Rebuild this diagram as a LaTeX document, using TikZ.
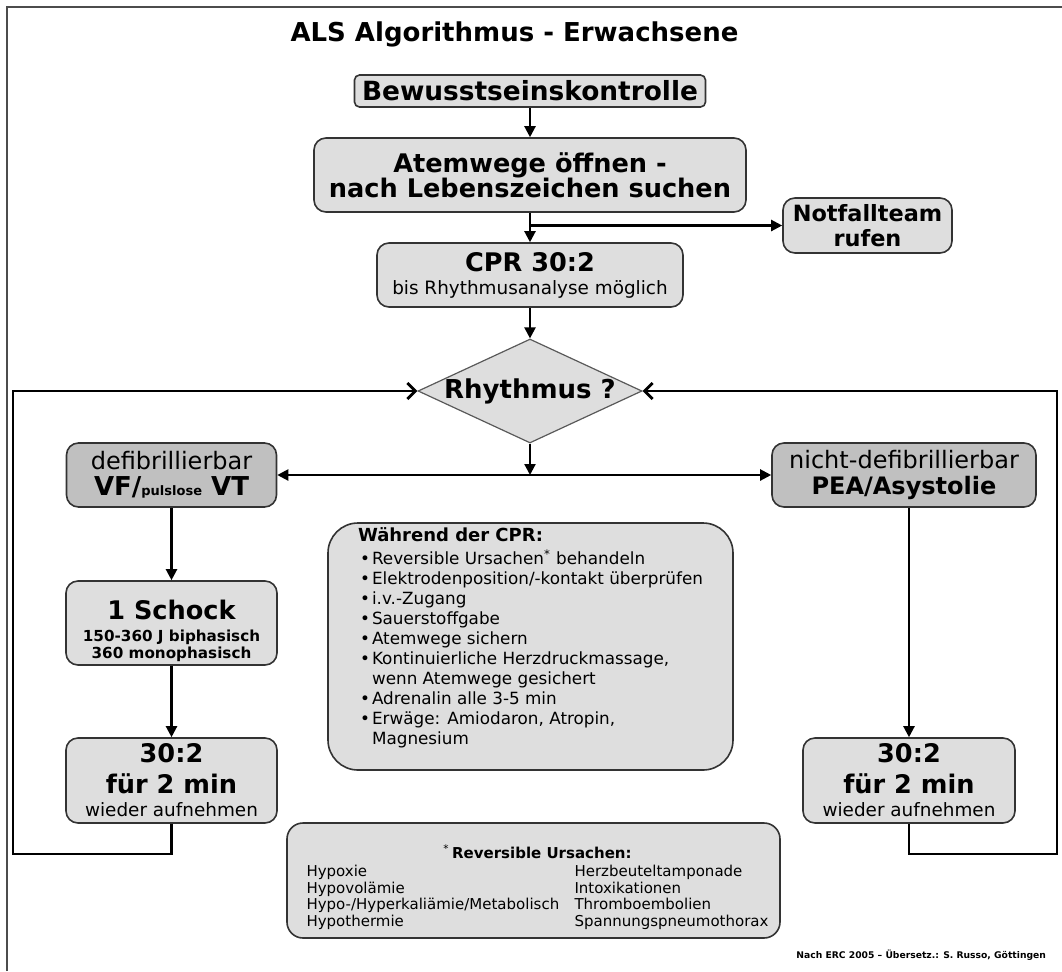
\documentclass[tikz,border=0pt]{standalone}
\usepackage{fontspec}
\setmainfont{DejaVu Sans}
\usetikzlibrary{shapes.geometric,arrows.meta}
\definecolor{boxgray}{HTML}{DEDEDE}
\definecolor{rhythmgray}{HTML}{C0C0C0}
\definecolor{edgegray}{HTML}{333333}
\newcommand{\dotitem}{\makebox[7pt][c]{\textbullet}}
\newcommand{\sizebig}{\bfseries\fontsize{12.8}{13}\selectfont}

\tikzset{
  procbox/.style={draw=edgegray, line width=0.8pt, fill=boxgray, rounded corners=6pt,
    align=center, inner sep=0pt},
  rhythmbox/.style={procbox, fill=rhythmgray},
  infobox/.style={draw=edgegray, line width=0.8pt, fill=boxgray, rounded corners=8pt, inner sep=0pt},
  decision/.style={diamond, draw=black!65, line width=0.6pt, fill=boxgray,
    minimum width=112pt, minimum height=52pt, inner sep=0pt},
  flowarrow/.style={line width=1.1pt, -{Triangle[length=5.5pt,width=5.5pt]}},
  backarrow/.style={line width=1.4pt, -{Straight Barb[length=4pt,width=8pt]}},
  frameline/.style={line width=0.6pt, draw=black!70}
}

\begin{document}
\begin{tikzpicture}[x=0.5pt, y=-0.5pt]
  \useasboundingbox (0,0) rectangle (1062,971);
  \draw[frameline] (7,971) -- (7,7) -- (1062,7);

  \node[anchor=base, font=\bfseries\fontsize{13}{15}\selectfont] (title) at (514.5,41) {ALS Algorithmus - Erwachsene};

  % main column
  \node[procbox, rounded corners=2.5pt, minimum width=175.5pt, minimum height=16pt,
    font=\bfseries\fontsize{13.2}{15}\selectfont] (check) at (530,91) {Bewusstseinskontrolle};
  \node[procbox, minimum width=216pt, minimum height=37pt,
    font={\bfseries\fontsize{12.8}{12.5}\selectfont\lineskiplimit=-20pt}] (airway) at (530,175)
    {Atemwege öffnen -\\nach Lebenszeichen suchen};
  \node[procbox, minimum width=84.5pt, minimum height=27.5pt,
    font=\bfseries\fontsize{11.2}{12.5}\selectfont] (team) at (867.5,225.5) {Notfallteam\\rufen};
  \node[procbox, minimum width=153pt, minimum height=32pt,
    font=\fontsize{9.2}{11.5}\selectfont] (cpr) at (530,275)
    {{\sizebig CPR 30:2}\\bis Rhythmusanalyse möglich};
  \node[decision] (rhythm) at (530,391) {};
  \node[font=\bfseries\fontsize{13}{13}\selectfont, inner sep=0pt] (rhythmtext) at (rhythm.center) {Rhythmus ?};

  % branches
  \node[rhythmbox, minimum width=105pt, minimum height=32pt,
    font=\fontsize{12}{13}\selectfont] (shockable) at (171.5,475)
    {defibrillierbar\\{\bfseries\fontsize{13}{13}\selectfont VF/{\fontsize{6.5}{7}\selectfont pulslose} VT}};
  \node[rhythmbox, minimum width=132pt, minimum height=32pt,
    font=\fontsize{12}{13}\selectfont] (nonshock) at (904,475)
    {nicht-defibrillierbar\\\textbf{PEA/Asystolie}};
  \node[procbox, minimum width=105.5pt, minimum height=42pt,
    font=\bfseries\fontsize{7.6}{8.5}\selectfont] (shock) at (171.5,623)
    {\rule{0pt}{17.5pt}{\fontsize{12.8}{13}\selectfont 1 Schock}\\[2.5pt]150-360 J biphasisch\\360 monophasisch};
  \node[procbox, minimum width=105.5pt, minimum height=42.5pt,
    font=\fontsize{9.2}{11.5}\selectfont] (pause1) at (171.5,780.5)
    {{\sizebig 30:2}\\[4pt]{\sizebig für 2 min}\\wieder aufnehmen};
  \node[procbox, minimum width=106pt, minimum height=42.5pt,
    font=\fontsize{9.2}{11.5}\selectfont] (pause2) at (909,780.5)
    {{\sizebig 30:2}\\[4pt]{\sizebig für 2 min}\\wieder aufnehmen};

  % notes
  \node[procbox, rounded corners=15pt, minimum width=202.5pt, minimum height=123.5pt] (cprbox) at (530.5,646.5) {};
  \node[anchor=north, align=left, inner sep=0pt, font=\fontsize{8.4}{10}\selectfont] (cprtext) at (530.5,527)
    {{\bfseries\fontsize{9}{10}\selectfont Während der CPR:}\\[1.5pt]
     \dotitem Reversible Ursachen\textsuperscript{*} behandeln\\
     \dotitem Elektrodenposition/-kontakt überprüfen\\
     \dotitem i.v.-Zugang\\
     \dotitem Sauerstoffgabe\\
     \dotitem Atemwege sichern\\
     \dotitem Kontinuierliche Herzdruckmassage,\\
     \hspace*{7pt}wenn Atemwege gesichert\\
     \dotitem Adrenalin alle 3-5 min\\
     \dotitem Erwäge: Amiodaron, Atropin,\\
     \hspace*{7pt}Magnesium};
  \node[infobox, minimum width=246.5pt, minimum height=57.5pt,
    font=\fontsize{7.5}{8.25}\selectfont] (causes) at (533.5,880.5)
    {\begin{tabular}{@{\hspace{4pt}}p{134pt}@{}l@{}}
      \multicolumn{2}{@{\hspace{4pt}}c@{}}{\rule{0pt}{14.5pt}\textsuperscript{*}\,\textbf{Reversible Ursachen:}}\\[0.75pt]
      Hypoxie & Herzbeuteltamponade\\
      Hypovolämie & Intoxikationen\\
      Hypo-/Hyperkaliämie/Metabolisch & Thromboembolien\\
      Hypothermie & Spannungspneumothorax
    \end{tabular}};
  \node[anchor=base east, font=\bfseries\fontsize{4.6}{5}\selectfont] (source) at (1053,958)
    {Nach ERC 2005 – Übersetz.: S. Russo, Göttingen};

  % connectors
  \draw[flowarrow] (check) -- (airway);
  \draw[flowarrow] (airway) -- (cpr);
  \draw[flowarrow] (airway.south |- team.west) -- (team);
  \draw[flowarrow] (cpr) -- (rhythm);
  \coordinate (split) at (rhythm.south |- shockable.east);
  \draw[flowarrow] (rhythm) -- (split);
  \draw[flowarrow] (split) -- (shockable);
  \draw[flowarrow] (split) -- (nonshock);
  \draw[flowarrow] (shockable) -- (shock);
  \draw[flowarrow] (shock) -- (pause1);
  \draw[flowarrow] (nonshock.south -| pause2.north) -- (pause2);
  \coordinate (loopL) at (13,854);
  \coordinate (loopR) at (1057,854);
  \draw[backarrow] (pause1.south) |- (loopL) |- (rhythm.west);
  \draw[backarrow] (pause2.south) |- (loopR) |- (rhythm.east);
\end{tikzpicture}
\end{document}
